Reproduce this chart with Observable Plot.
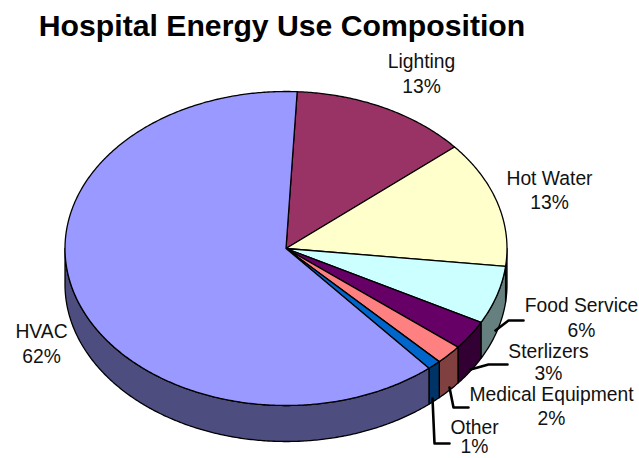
<!DOCTYPE html>
<html>
<head>
<meta charset="utf-8">
<style>html,body{margin:0;padding:0;background:#fff}svg{display:block}</style>
<script src="https://cdn.jsdelivr.net/npm/d3@7"></script>
<script src="https://cdn.jsdelivr.net/npm/@observablehq/plot@0.6"></script>
</head>
<body>
<script>
// Share of hospital energy use, clockwise from the top of the pie
const names = ["Lighting", "Hot Water", "Food Service", "Sterlizers", "Medical Equipment", "Other", "HVAC"];
const shares = [13, 13, 6, 3, 2, 1, 62];
const topColors = ["#993366", "#FFFFCC", "#CCFFFF", "#660066", "#FF8080", "#0066CC", "#9999FF"];
const sideColors = ["#4D1A33", "#808066", "#668080", "#330033", "#804040", "#003366", "#4D4D80"];

// Label placement, in page pixels: centre x, name line y, value line y
const labelX = [421, 549, 581, 548, 551, 474, 41];
const labelNameY = [61, 178, 305, 351, 394, 427, 331];
const labelValueY = [86, 202, 330, 373, 418, 446, 356];

// Leader lines, in page pixels
const leaders = {
  "Food Service": [[495, 330], [508, 320], [523, 320]],
  "Sterlizers": [[470, 369], [488, 364], [507, 364]],
  "Medical Equipment": [[449, 387], [453, 407], [468, 407]],
  "Other": [[432, 398], [434, 443], [449, 443]]
};

const W = 639, H = 458;
const centerX = 285.5, centerY = 248, radiusX = 221, radiusY = 157, wallDepth = 36;
const startAngle = 2.9; // degrees clockwise from vertical
const total = d3.sum(shares);

// The pie is laid out on a unit circle squashed by the y scale
const x = {domain: [-centerX / radiusX, (W - centerX) / radiusX], range: [0, W]};
const y = {domain: [(centerY - H) / radiusY, centerY / radiusY], range: [H, 0]};
const pxX = (p) => (p - centerX) / radiusX;
const pxY = (p) => (centerY - p) / radiusY;
const drop = wallDepth / radiusY;

const rim = (deg, below = 0) => {
  const r = (deg * Math.PI) / 180;
  return [Math.sin(r), Math.cos(r) - below];
};
const arcAngles = (a, b) => {
  const n = Math.max(2, Math.ceil((b - a) * 2));
  return d3.range(n + 1).map((i) => a + ((b - a) * i) / n);
};

let running = startAngle;
const slices = names.map((name, i) => {
  const a0 = running;
  running += (shares[i] / total) * 360;
  return {name, a0, a1: running};
});

// Flat top faces: centre, then the arc, closed back to the centre
const topPoints = slices.flatMap((s) =>
  [[0, 0], ...arcAngles(s.a0, s.a1).map((t) => rim(t)), [0, 0]].map(([px, py]) => ({px, py, key: s.name}))
);

// Outer walls: only the part of each arc on the near side of the pie is visible
const wallPoints = slices.flatMap((s) => {
  const a = Math.max(s.a0, 90), b = Math.min(s.a1, 270);
  if (b <= a) return [];
  const ts = arcAngles(a, b);
  const ring = [...ts.map((t) => rim(t)), ...ts.slice().reverse().map((t) => rim(t, drop))];
  return [...ring, ring[0]].map(([px, py]) => ({px, py, key: s.name + " side"}));
});

const leaderPoints = Object.entries(leaders).flatMap(([name, pts]) =>
  pts.map(([a, b]) => ({px: pxX(a), py: pxY(b), name}))
);

const labelRows = names.flatMap((name, i) => [
  {text: name, px: pxX(labelX[i]), py: pxY(labelNameY[i])},
  {text: `${shares[i]}%`, px: pxX(labelX[i]), py: pxY(labelValueY[i])}
]);

const chart = Plot.plot({
  width: W,
  height: H,
  margin: 0,
  x: {...x, axis: null},
  y: {...y, axis: null},
  color: {
    type: "ordinal",
    domain: [...names, ...names.map((n) => n + " side")],
    range: [...topColors, ...sideColors]
  },
  style: {background: "#fff"},
  marks: [
    Plot.line(wallPoints, {x: "px", y: "py", z: "key", fill: "key", stroke: "#000", strokeWidth: 1.3}),
    Plot.line(topPoints, {x: "px", y: "py", z: "key", fill: "key", stroke: "#000", strokeWidth: 1.3}),
    Plot.line(leaderPoints, {x: "px", y: "py", z: "name", stroke: "#000", strokeWidth: 2.6}),
    Plot.text(labelRows, {
      x: "px", y: "py", text: "text",
      fontFamily: "Liberation Sans", fontSize: 19.3, fill: "#111", textAnchor: "middle", lineAnchor: "middle"
    }),
    Plot.text(["Hospital Energy Use Composition"], {
      x: pxX(281.5), y: pxY(26), text: (d) => d,
      fontFamily: "Liberation Sans", fontSize: 30.2, fontWeight: "bold", fill: "#000", textAnchor: "middle", lineAnchor: "middle"
    })
  ]
});
document.body.appendChild(chart);
</script>
</body>
</html>
